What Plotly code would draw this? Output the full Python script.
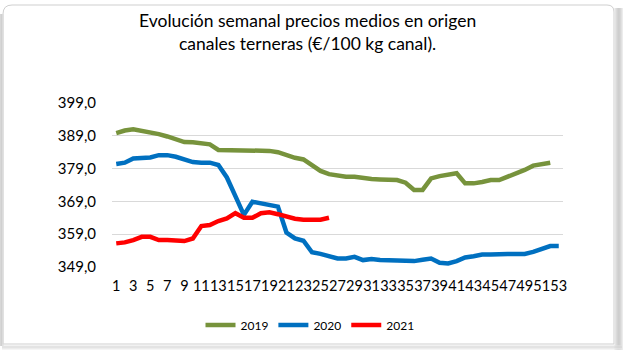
import plotly.graph_objects as go

# Weekly average prices of veal carcasses (EUR / 100 kg carcass)
weeks = list(range(1, 54))

precio_2019 = [389.8, 390.6, 391.0, 390.6, 390.0, 389.5, 388.8, 388.1, 387.1, 387.0,
               386.7, 386.4, 384.7, 384.7, 384.7, 384.7, 384.4, 384.4, 384.4, 384.0,
               383.0, 382.3, 381.8, 380.1, 378.3, 377.3, 376.8, 376.5, 376.5, 376.0,
               375.8, 375.7, 375.5, 375.5, 374.7, 372.5, 372.5, 376.0, 376.7, 377.0,
               377.6, 374.5, 374.5, 374.9, 375.5, 375.5, 376.5, 377.3, 378.6, 379.9,
               380.4, 380.8]

precio_2020 = [380.4, 380.8, 382.1, 382.4, 382.4, 383.1, 383.1, 382.6, 381.8, 381.0,
               380.8, 380.8, 380.1, 376.3, 370.6, 364.9, 368.9, 368.4, 367.9, 367.4,
               359.5, 357.7, 357.0, 353.5, 353.0, 352.2, 351.6, 351.6, 352.1, 351.1,
               351.4, 351.1, 351.1, 351.1, 351.1, 350.8, 351.2, 351.6, 350.3, 350.1,
               350.8, 351.9, 352.3, 352.8, 352.8, 353.0, 353.0, 353.0, 353.0, 353.6,
               354.4, 355.4, 355.4]

precio_2021 = [356.2, 356.5, 357.2, 358.2, 358.2, 357.2, 357.2, 356.9, 356.9, 357.7,
               361.5, 361.8, 363.0, 363.8, 365.4, 364.0, 364.0, 365.4, 365.7, 365.1,
               364.3, 363.7, 363.4, 363.4, 363.4, 364.0]

y_ticks = [349, 359, 369, 379, 389, 399]
x_ticks = list(range(1, 54, 2))

series = [
    ("2019", precio_2019, "#77933C"),
    ("2020", precio_2020, "#0070C0"),
    ("2021", precio_2021, "#FF0000"),
]

W, H = 624, 351
L, R, T, B = 112, 563, 103, 267  # plot area in pixels


def px(x):
    return (x - L) / (R - L)


def py(y):
    return (B - y) / (B - T)


fig = go.Figure()
for name, vals, color in series:
    fig.add_trace(go.Scatter(
        x=weeks[:len(vals)], y=vals, name=name, mode="lines",
        line=dict(color=color, width=4.5, shape="linear"),
    ))

font_family = "Lato, 'Open Sans', sans-serif"

fig.update_layout(
    width=W, height=H,
    margin=dict(l=L, r=W - R, t=T, b=H - B, pad=0),
    paper_bgcolor="white", plot_bgcolor="white",
    separators=",.",
    showlegend=True,
    legend=dict(orientation="h", x=px(310), y=py(325), xanchor="center", yanchor="middle",
                font=dict(family=font_family, size=12, color="#000"),
                itemwidth=30, tracegroupgap=0, bgcolor="rgba(0,0,0,0)"),
    font=dict(family=font_family, color="#000"),
)

fig.update_xaxes(
    range=[0.5, 53.5], tickmode="array", tickvals=x_ticks,
    ticktext=[str(v) for v in x_ticks], showgrid=False, zeroline=False,
    showline=False, ticks="", ticklabelstandoff=8, tickangle=0,
    tickfont=dict(family=font_family, size=14.5, color="#000"),
)
fig.update_yaxes(
    range=[349, 399], tickmode="array", tickvals=y_ticks, tickformat=".1f",
    showgrid=True, gridcolor="#d9d9d9", gridwidth=1, zeroline=False,
    showline=False, ticks="", ticklabelstandoff=15,
    tickfont=dict(family=font_family, size=15, color="#000"),
)

# Title
fig.add_annotation(
    text="Evolución semanal precios medios en origen<br>canales terneras (€/100 kg canal).",
    xref="paper", yref="paper", x=px(307), y=py(32), xanchor="center", yanchor="middle",
    showarrow=False, align="center",
    font=dict(family=font_family, size=17.5, color="#000"),
)

# Chart frame with a soft shadow
frame_path = (
    f"M {px(12)},{py(5)} L {px(607)},{py(5)} Q {px(614)},{py(5)} {px(614)},{py(12)} "
    f"L {px(614)},{py(344)} L {px(3)},{py(344)} L {px(3)},{py(14)} "
    f"Q {px(3)},{py(5)} {px(12)},{py(5)} Z"
)
fig.add_shape(type="path", path=frame_path, xref="paper", yref="paper",
              line=dict(color="#cfcfcf", width=1), fillcolor="rgba(0,0,0,0)", layer="below")
shadow_cols = ["#e6e6e6", "#dadada", "#d0d0d0", "#c8c8c8", "#c4c4c4", "#c8c8c8", "#d2d2d2", "#e0e0e0"]
for i, c in enumerate(shadow_cols):
    xx = 615 + i
    fig.add_shape(type="line", xref="paper", yref="paper",
                  x0=px(xx), x1=px(xx), y0=py(8), y1=py(350),
                  line=dict(color=c, width=1.2))
for i, c in enumerate(["#bdbdbd", "#cccccc", "#dedede"]):
    xx = 1 + i
    fig.add_shape(type="line", xref="paper", yref="paper",
                  x0=px(xx), x1=px(xx), y0=py(14), y1=py(346),
                  line=dict(color=c, width=1.2))
for i, c in enumerate(["#e4e4e4", "#d6d6d6", "#dcdcdc", "#ececec"]):
    yy = 346 + i
    fig.add_shape(type="line", xref="paper", yref="paper",
                  x0=px(2), x1=px(622), y0=py(yy), y1=py(yy),
                  line=dict(color=c, width=1.2))

fig.write_html("out.html")
